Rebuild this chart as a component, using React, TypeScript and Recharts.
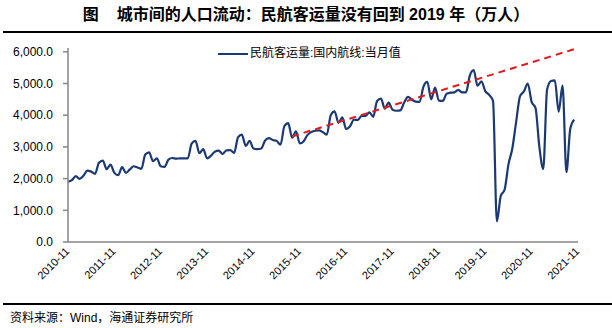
import { Line, LineChart, XAxis, YAxis } from 'recharts';

// 民航客运量:国内航线:当月值 (万人), 2010-11 起按月, 最后一个类目 2021-11 无数据
const startYear = 2010;
const startMonth = 11;
const domestic: (number | null)[] = [
  1900, 1950, 2080, 1990, 2090, 2250, 2220, 2150, 2500, 2570, 2300, 2440,
  2180, 2110, 2360, 2180, 2290, 2390, 2350, 2310, 2760, 2830, 2550, 2640,
  2390, 2370, 2600, 2650, 2630, 2640, 2640, 2640, 3100, 3190, 2800, 2930,
  2640, 2720, 2850, 2880, 2780, 2890, 2900, 2810, 3300, 3390, 3030, 3190,
  2950, 2930, 2950, 3200, 3280, 3220, 3190, 3070, 3650, 3750, 3290, 3490,
  3110, 3180, 3380, 3470, 3510, 3520, 3460, 3390, 4000, 4120, 3760, 3930,
  3560, 3650, 3860, 3850, 3980, 3980, 4090, 3950, 4450, 4520, 4210, 4400,
  4170, 4140, 4150, 4400, 4580, 4490, 4430, 4420, 4900, 5050, 4500, 4870,
  4460, 4450, 4680, 4710, 4720, 4800, 4720, 4720, 5250, 5420, 4930, 5070,
  4760, 4640, 4450, 650, 1450, 1650, 2450, 2950, 3800, 4600, 4750, 5000,
  4420, 4230, 3000, 2300, 4810, 5080, 5100, 4110, 4940, 2200, 3570, 3860,
  null,
];
// 红色虚线: 趋势线两端点
const trendPoints = [
  { month: '2015-09', value: 3330 },
  { month: '2021-11', value: 6120 },
];
const yTicks = [0, 1000, 2000, 3000, 4000, 5000, 6000];

const months = domestic.map((_, i) => {
  const m = startMonth - 1 + i;
  const y = startYear + Math.floor(m / 12);
  return `${y}-${String((m % 12) + 1).padStart(2, '0')}`;
});

const data = months.map((month, i) => {
  const t = trendPoints.find(p => p.month === month);
  return { month, domestic: domestic[i], trend: t ? t.value : null };
});

const latin = '"Liberation Sans", Arial, "Noto Sans CJK SC", sans-serif';
const cjk = '"Liberation Sans", "Noto Sans CJK SC", sans-serif';
const axisGray = '#868686';

function XTick({ x, y, payload }: any) {
  return (
    <text
      transform={`translate(${x + 2},${y + 2}) rotate(-45)`}
      textAnchor="end"
      fontSize={11}
      fontFamily={latin}
      fill="#000"
    >
      {payload.value}
    </text>
  );
}

function formatTick(v: number): string {
  return v.toLocaleString('en-US', { minimumFractionDigits: 1, maximumFractionDigits: 1 });
}

export default function App() {
  return (
    <div
      style={{
        position: 'absolute',
        left: 0,
        top: 0,
        width: 612,
        height: 328,
        background: '#fff',
        fontFamily: cjk,
        overflow: 'hidden',
      }}
    >
      <div
        style={{
          position: 'absolute',
          left: 0,
          top: 5,
          width: 612,
          textAlign: 'center',
          fontSize: 16,
          fontWeight: 'bold',
          whiteSpace: 'pre',
          lineHeight: '20px',
        }}
      >
        {'图    城市间的人口流动：民航客运量没有回到 2019 年（万人）'}
      </div>
      <div style={{ position: 'absolute', left: 3, top: 31, width: 609, height: 1.5, background: '#000' }} />

      <LineChart
        width={612}
        height={328}
        data={data}
        margin={{ top: 48, right: 34, bottom: 26, left: 0 }}
        style={{ position: 'absolute', left: 0, top: 0 }}
      >
        <XAxis
          dataKey="month"
          interval={11}
          height={60}
          tickLine={false}
          axisLine={{ stroke: axisGray, strokeWidth: 1.5 }}
          tick={<XTick />}
        />
        <YAxis
          width={68}
          domain={[0, 6000]}
          ticks={yTicks}
          tickFormatter={formatTick}
          tickSize={5}
          tickMargin={10}
          tickLine={{ stroke: axisGray, strokeWidth: 1.5 }}
          axisLine={{ stroke: axisGray, strokeWidth: 1.5 }}
          tick={{ fill: '#000', fontSize: 12, fontFamily: latin }}
        />
        <Line
          type="monotone"
          dataKey="domestic"
          stroke="#1b3a73"
          strokeWidth={2.2}
          dot={false}
          isAnimationActive={false}
        />
        <Line
          type="linear"
          dataKey="trend"
          stroke="#e01b1b"
          strokeWidth={2}
          strokeDasharray="7 5"
          dot={false}
          connectNulls
          isAnimationActive={false}
        />
      </LineChart>

      <div style={{ position: 'absolute', left: 218, top: 52.5, width: 30, height: 2.2, background: '#1b3a73' }} />
      <div
        style={{
          position: 'absolute',
          left: 250,
          top: 45,
          fontSize: 12,
          lineHeight: '16px',
          whiteSpace: 'nowrap',
        }}
      >
        民航客运量:国内航线:当月值
      </div>

      <div style={{ position: 'absolute', left: 3, top: 303, width: 609, height: 1.5, background: '#000' }} />
      <div
        style={{
          position: 'absolute',
          left: 10,
          top: 310,
          fontSize: 12,
          lineHeight: '16px',
          whiteSpace: 'nowrap',
        }}
      >
        资料来源：Wind，海通证券研究所
      </div>
    </div>
  );
}
